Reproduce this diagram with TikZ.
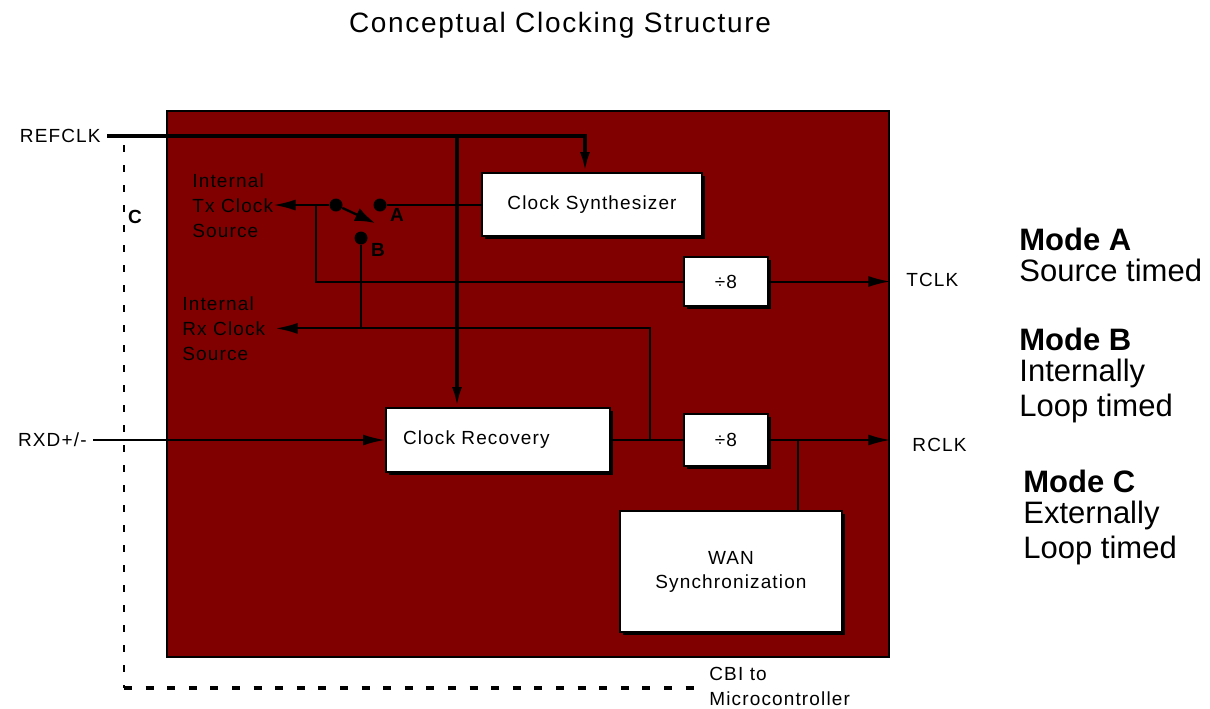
\documentclass[tikz,border=0pt]{standalone}
\usepackage{fontspec}
\setmainfont{Liberation Sans}
\newfontfamily\lblfont[LetterSpace=6]{Liberation Sans}
\usetikzlibrary{
  shapes,
  calc,
  positioning,
  shadows,
  arrows.meta
}
\definecolor{chipred}{HTML}{800000}

\begin{document}
\begin{tikzpicture}[x=0.5pt,y=-0.5pt,
  lbl/.style={font=\lblfont\fontsize{9.5}{12.5}\selectfont,inner sep=0pt},
  block/.style={rectangle,draw=black,line width=1pt,fill=white,font=\lblfont\fontsize{9.5}{12}\selectfont,drop shadow={shadow xshift=1.3pt,shadow yshift=-1.3pt,fill=black,opacity=1}},
  sig/.style={line width=1pt},
  arr/.style={sig,-{Latex[length=11pt,width=5.5pt]}},
  bus/.style={line width=1.8pt,-{Latex[length=10pt,width=5pt]}},
  arm/.style={line width=1.2pt,-{Latex[length=10pt,width=7pt]}},
  contact/.style={circle,fill=black,inner sep=0pt,minimum size=6.5pt},
  pin/.style={font=\bfseries\fontsize{9.5}{12}\selectfont,inner sep=0pt},
  ctrl/.style={line width=1pt,dash pattern=on 3.5pt off 6.5pt},
  mode/.style={font=\fontsize{15.5}{15.5}\selectfont,align=left,inner sep=0pt,anchor=north west}]
		\useasboundingbox (0,0) rectangle (1210,708);
		\node[font=\lblfont\fontsize{14}{16}\selectfont] (title) at (560,25) {Conceptual Clocking Structure};
		\node[draw=black,fill=chipred,line width=1.3pt,minimum width=361pt,minimum height=273pt,inner sep=0pt] (chip) at (528,384) {};
		\node[block,minimum width=110pt,minimum height=31.5pt] (synth) at (592,204.5) {Clock Synthesizer};
		\node[block,minimum width=42pt,minimum height=24.5pt] (divtop) at (726,281.5) {÷8};
		\node[block,minimum width=112pt,minimum height=32pt,text width=95pt,align=left] (recov) at (498,440) {Clock Recovery};
		\node[block,minimum width=42pt,minimum height=26pt] (divbot) at (726,440) {÷8};
		\node[block,minimum width=111pt,minimum height=60.5pt,align=center] (wan) at (731,571.5) {WAN\\Synchronization};
		\node[lbl,anchor=east] (refclk) at (101,136) {REFCLK};
		\node[lbl,anchor=east] (rxd) at (87,440) {RXD+/-};
		\node[lbl,align=left,anchor=north west] (txsrc) at (192,173) {Internal\\Tx Clock\\Source};
		\node[lbl,align=left,anchor=north west] (rxsrc) at (182,296) {Internal\\Rx Clock\\Source};
		\node[lbl,anchor=west] (tclk) at (906,280) {TCLK};
		\node[lbl,anchor=west] (rclk) at (912,445) {RCLK};
		\node[lbl,align=left,anchor=north west] (cbi) at (709,667) {CBI to\\Microcontroller};
		% switch
		\node[contact] (pole) at (336,205) {};
		\node[contact] (conta) at (380,205) {};
		\node[contact] (contb) at (361,238) {};
		\coordinate (armtip) at (375,223);
		\node[pin] (pina) at (397,215) {A};
		\node[pin] (pinb) at (378,250) {B};
		\node[pin] (pinc) at (135,217) {C};
		% taps
		\coordinate (recovin) at ([xshift=-20.5pt]recov.north);
		\coordinate (txtap) at (316,205);
		\coordinate (rxtap) at (650,440);
		\coordinate (rxout) at ([xshift=5pt]rxsrc.east);
		\coordinate (wantap) at (798,440);
		\coordinate (ctop) at (124,145);
		\coordinate (cbend) at (124,688);

		\draw[bus] ([xshift=3pt]refclk.east) -| ([xshift=-3.5pt]synth.north);
		\draw[bus] (recovin |- refclk.east) -- (recovin);
		\draw[sig] (conta) -- (conta -| synth.west);
		\draw[arr] (pole) -- (pole -| txsrc.east);
		\draw[arm] (pole) -- (armtip);
		\draw[sig] (txtap) |- (divtop.west);
		\draw[arr] (divtop.east) -- (divtop.east -| chip.east);
		\draw[arr] (rxtap) |- (rxout);
		\draw[sig] (contb) -- (contb |- rxout);
		\draw[arr] ([xshift=3pt]rxd.east) -- (recov.west);
		\draw[sig] (recov.east) -- (divbot.west);
		\draw[arr] (divbot.east) -- (divbot.east -| chip.east);
		\draw[sig] (wantap) -- (wantap |- wan.north);
		\draw[ctrl] (ctop) -- (cbend);
		\draw[ctrl,line width=1.8pt,dash pattern=on 4pt off 6.8pt,shorten >=4pt] (cbend) -- (cbend -| cbi.west);
		\node[mode] (modea) at (1019,228) {\textbf{Mode A}\\Source timed};
		\node[mode] (modeb) at (1019,328) {\textbf{Mode B}\\Internally\\[2pt]Loop timed};
		\node[mode] (modec) at (1023,470) {\textbf{Mode C}\\Externally\\[2pt]Loop timed};
	\end{tikzpicture}
\end{document}
